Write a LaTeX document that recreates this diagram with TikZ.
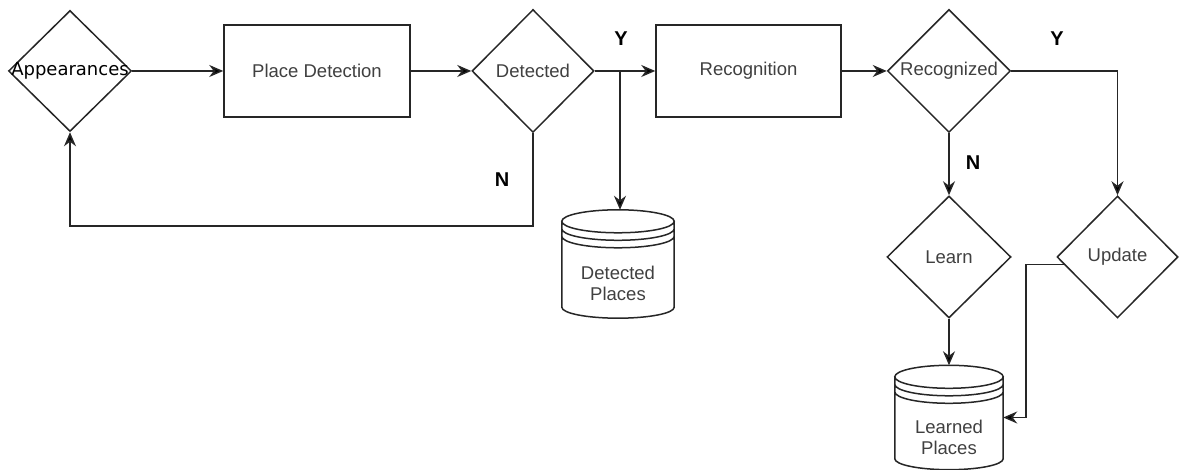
\documentclass[tikz,border=0pt]{standalone}
\usepackage{fontspec}
\setmainfont{Liberation Sans}
\newfontfamily\dvsans{DejaVu Sans}
\usetikzlibrary{shapes.geometric,arrows.meta,calc}

\tikzset{
  line/.style={line width=1.5pt, draw=black!85},
  flow/.style={line, -{Stealth[length=14pt,width=12pt,inset=4.5pt,fill=black]}},
  lbl/.style={font=\fontsize{18.5}{21}\selectfont, text=black!75},
  decision/.style={diamond, draw, line, fill=white, inner sep=0pt, lbl},
  process/.style={rectangle, draw, line, fill=white, minimum height=92pt, lbl},
  store/.style={rectangle, inner sep=0pt},
  yn/.style={font=\fontsize{20}{24}\selectfont\bfseries, text=black},
}

% cylinder outline of a data store, drawn around a named node
\newcommand\storeoutline[1]{%
  \draw[line] let \p1=(#1.north west), \p2=(#1.south east), \n1={(\x2-\x1)/2} in
    (\x1,\y1-11.5pt) -- (\x1,\y2+11pt)
      arc[start angle=180, end angle=360, x radius=\n1, y radius=11pt]
      -- (\x2,\y1-11.5pt)
    ($(\x1,\y1-11.5pt)!0.5!(\x2,\y1-11.5pt)$) ellipse [x radius=\n1, y radius=11.5pt]
    (\x1,\y1-19pt) arc[start angle=180, end angle=360, x radius=\n1, y radius=11.5pt]
    (\x1,\y1-26.5pt) arc[start angle=180, end angle=360, x radius=\n1, y radius=11.5pt];
}

\begin{document}
\begin{tikzpicture}[x=1pt, y=1pt]
  \useasboundingbox (0,0) rectangle (1179,470);

  % top row
  \node[decision, minimum width=123pt, minimum height=121pt, text=black,
        font=\dvsans\fontsize{18}{21}\selectfont] (app) at (70,399)
        {\makebox[0pt]{Appearances}};
  \node[process, minimum width=186pt] (pd) at (317,399) {Place Detection};
  \node[decision, minimum width=122pt, minimum height=123pt] (det) at (533,399)
        {\makebox[0pt]{Detected}};
  \node[process, minimum width=185pt] (rec) at (748.5,399) {Recognition};
  \node[decision, minimum width=123pt, minimum height=123pt] (recd) at (949,399)
        {\makebox[0pt]{Recognized}};

  % lower row
  \node[decision, minimum width=124pt, minimum height=122pt] (learn) at (949,213)
        {\makebox[0pt]{Learn}};
  \node[decision, minimum width=121pt, minimum height=122pt] (upd) at (1117.5,213)
        {\makebox[0pt]{Update}};

  % data stores
  \node[store, minimum width=112pt, minimum height=108pt,
        label={[lbl, align=center, yshift=-19pt]center:Detected\\Places}] (dp) at (618,206) {};
  \storeoutline{dp}
  \node[store, minimum width=108pt, minimum height=104pt,
        label={[lbl, align=center, yshift=-20pt]center:Learned\\Places}] (lp) at (949,52.5) {};
  \storeoutline{lp}

  % connectors
  \coordinate (yj) at (620,399);
  \coordinate (nl) at (533,244);
  \coordinate (uj) at (1026,52.5);

  \draw[flow] (app.east) -- (pd.west);
  \draw[flow] (pd.east) -- (det.west);
  \draw[flow] (det.east) -- (rec.west);
  \draw[flow] (yj) -- (yj |- dp.north);
  \draw[flow] (det.south) -- (nl) -| (app.south);
  \draw[flow] (rec.east) -- (recd.west);
  \draw[flow] (recd.east) -| (upd.north);
  \draw[flow] (recd.south) -- (learn.north);
  \draw[flow] (learn.south) -- (lp.north);
  \draw[flow] (upd.188) -| (uj) -- (lp.east);

  % branch labels
  \node[yn] (y1) at (621,431) {Y};
  \node[yn] (n1) at (502,290) {N};
  \node[yn] (y2) at (1057,431) {Y};
  \node[yn] (n2) at (973,307) {N};
\end{tikzpicture}
\end{document}
